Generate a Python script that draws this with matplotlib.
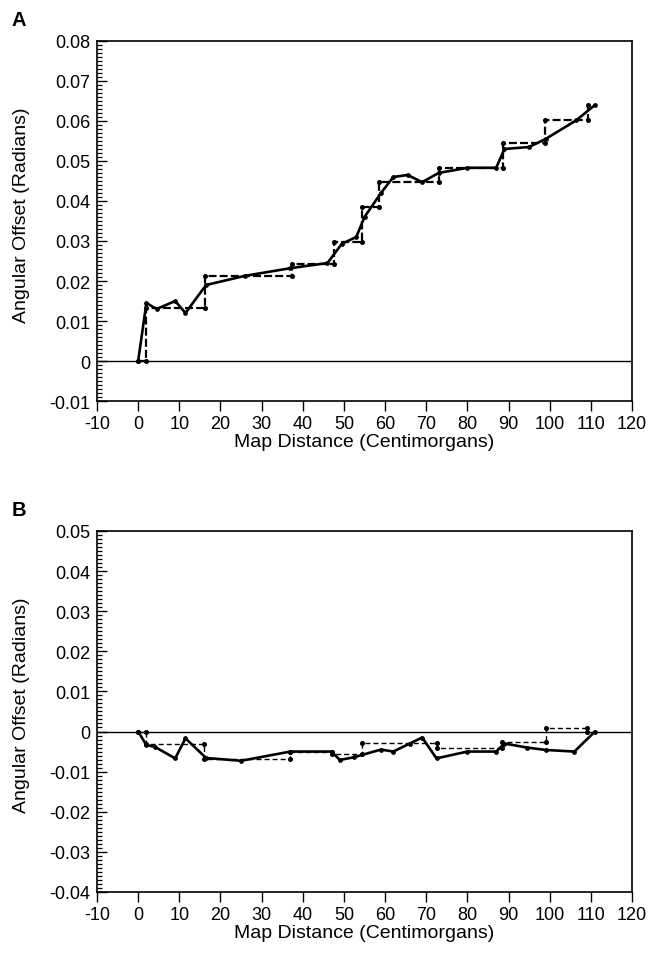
import matplotlib
matplotlib.use("Agg")
import matplotlib.pyplot as plt
from matplotlib.ticker import MultipleLocator, FuncFormatter
import numpy as np

# panel A: observed offsets (solid) and stepwise model (dashed)
a_x = [0, 2, 4.5, 9, 11.5, 16.5, 26, 37, 46, 49.5, 53, 55, 59, 62, 65.5, 69, 73,
       80, 87, 89, 95, 99, 106.5, 111]
a_y = [0, 0.0145, 0.013, 0.015, 0.012, 0.019, 0.0213, 0.0232, 0.0245, 0.0293,
       0.031, 0.036, 0.042, 0.046, 0.0465, 0.0447, 0.047, 0.0483, 0.0483, 0.053,
       0.0535, 0.0555, 0.0602, 0.064]
a_step_x = [0, 2, 16.3, 37.3, 47.5, 54.5, 58.5, 73, 88.7, 98.8, 109.3]
a_step_y = [0, 0.0133, 0.0212, 0.0243, 0.0298, 0.0385, 0.0448, 0.0482, 0.0545,
            0.0603, 0.064]

# panel B
b_x = [0, 2, 4, 9, 11.5, 16.5, 25, 37, 47, 49, 52.5, 59, 62, 66, 69, 72.5, 80,
       87, 89, 94.5, 99, 106, 111]
b_y = [0, -0.0034, -0.0038, -0.0067, -0.0017, -0.0066, -0.0073, -0.005, -0.005,
       -0.0071, -0.0064, -0.0045, -0.005, -0.003, -0.0015, -0.0067, -0.005,
       -0.005, -0.003, -0.004, -0.0046, -0.005, 0]
b_step_x = [0, 2, 16, 37, 47, 54.5, 72.5, 88.5, 99, 109]
b_step_y = [0, -0.0031, -0.0068, -0.005, -0.0055, -0.0028, -0.0042, -0.0026,
            0.0008, 0]

x_ticks = list(range(-10, 121, 10))


def step_corners(sx, sy):
    # corner points of a post-step line, where the dots sit
    cx, cy = [sx[0]], [sy[0]]
    for i in range(1, len(sx)):
        cx += [sx[i], sx[i]]
        cy += [sy[i - 1], sy[i]]
    return cx, cy


def drawPanel(ax, x, y, sx, sy, ylim, letter, dash_lw, dashes):
    ax.axhline(0, color='black', linewidth=1.0, zorder=1)
    ax.step(sx, sy, where='post', color='black', linestyle=(0, dashes),
            linewidth=dash_lw, zorder=2)
    cx, cy = step_corners(sx, sy)
    ax.plot(cx, cy, linestyle='none', marker='o', markersize=2.6,
            color='black', zorder=2)
    ax.plot(x, y, color='black', linewidth=1.9, marker='o', markersize=2.4,
            zorder=3)

    ax.set_xlim(-10, 120)
    ax.set_ylim(*ylim)
    ax.set_xticks(x_ticks)
    ax.yaxis.set_major_locator(MultipleLocator(0.01))
    ax.yaxis.set_minor_locator(MultipleLocator(0.001))
    ax.yaxis.set_major_formatter(FuncFormatter(lambda v, p: '%g' % round(v, 3)))

    ax.tick_params(axis='y', which='major', direction='in', length=7,
                   width=1.0, labelsize=13, pad=5)
    ax.tick_params(axis='y', which='minor', direction='in', length=3.5,
                   width=0.9)
    ax.tick_params(axis='x', which='major', direction='out', length=7,
                   width=1.0, labelsize=13, pad=3)
    for s in ax.spines.values():
        s.set_linewidth(1.2)

    ax.set_xlabel('Map Distance (Centimorgans)', fontsize=14, labelpad=1)
    ax.set_ylabel('Angular Offset (Radians)', fontsize=14)
    ax.yaxis.set_label_coords(-0.125, 0.52)
    ax.text(-0.16, 1.06, letter, transform=ax.transAxes, fontsize=14.5,
            fontweight='bold', ha='left', va='center')


def main():
    plt.rcParams.update({'font.family': ['Liberation Sans', 'DejaVu Sans'],
                         'axes.unicode_minus': False})
    fig = plt.figure(figsize=(6.69, 9.54), dpi=100)
    ax_a = fig.add_axes([0.145, 0.5786, 0.7997, 0.3774])
    ax_b = fig.add_axes([0.145, 0.0640, 0.7997, 0.3784])

    drawPanel(ax_a, a_x, a_y, a_step_x, a_step_y, (-0.01, 0.08), 'A', 1.6, (3.6, 1.4))
    drawPanel(ax_b, b_x, b_y, b_step_x, b_step_y, (-0.04, 0.05), 'B', 1.0, (3.6, 2.2))

    fig.savefig('out.png', dpi=100)
    plt.close(fig)


if __name__ == '__main__':
    main()
